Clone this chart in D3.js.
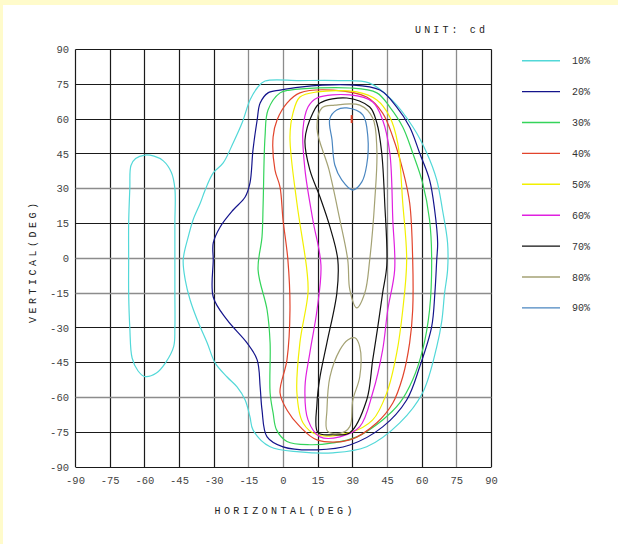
<!DOCTYPE html>
<html>
<head>
<meta charset="utf-8">
<script src="https://cdn.jsdelivr.net/npm/d3@7"></script>
<style>
  html, body { margin: 0; padding: 0; background: #ffffff; }
  svg { display: block; }
  text { font-family: "Liberation Mono", "DejaVu Sans Mono", monospace; }
</style>
</head>
<body>
<svg id="chart" width="618" height="544"></svg>
<script>
// Axis ticks (degrees)
const xTicks = [-90, -75, -60, -45, -30, -15, 0, 15, 30, 45, 60, 75, 90];
const yTicks = [90, 75, 60, 45, 30, 15, 0, -15, -30, -45, -60, -75, -90];
// Grid lines drawn in a lighter grey
const xLight = [-15, 0, 45, 75];
const yLight = [30, 0, -15, -60];

// Iso-candela levels and their line colours
const levels = ["10%", "20%", "30%", "40%", "50%", "60%", "70%", "80%", "90%"];
const levelColors = ["#52d8d8", "#14148c", "#34d45a", "#e2442c", "#f2f000",
                     "#e020e0", "#111111", "#a4a274", "#4a86c0"];

// Contour outlines, [horizontal deg, vertical deg]
const c10Side = [[-66,40],[-64,43],[-60,44.5],[-56,44],[-52,42],[-48.5,37],[-47,30],[-47,15],
  [-47,0],[-47,-15],[-47,-30],[-47.5,-38],[-51,-45],[-55,-49.5],[-60,-51],[-63,-48.5],
  [-65.5,-43],[-66.5,-30],[-67,-15],[-67,0],[-67,15],[-66.5,30]];
const c10Main = [[-8,76.4],[7,76.6],[24,76.6],[37,75.6],[47,68.2],[56,56.6],[62,45.4],
  [66.3,33.8],[68.8,20.8],[71,6.6],[71,-5],[69.7,-15],[68.5,-27],[66.3,-38.2],[60.2,-58],
  [50.3,-71],[36,-81.3],[21.4,-83.9],[7,-83.5],[-5.8,-81.3],[-13.2,-74],[-14.5,-68.4],
  [-16.6,-61.1],[-20.1,-55.5],[-24.4,-51.2],[-29.6,-45.1],[-33,-36.5],[-37.3,-26.6],
  [-40.4,-18],[-42.5,-9.4],[-43.4,-0.7],[-41.2,9.3],[-39.1,16.6],[-36,23.8],[-33.9,29.4],
  [-30.4,36.8],[-26.1,41.1],[-21.8,49.7],[-17.9,58.4],[-14.5,68.2],[-11.4,73.4]];
const c20 = [[-6.7,71.3],[-1.5,72.5],[7.1,73.8],[28.7,74.7],[41.7,72.5],[49,65.2],[54.6,56.6],
  [58.9,45.4],[63.2,33.8],[65.4,20.8],[66.7,6.6],[66.3,-0.7],[65.5,-15],[64.1,-29.6],
  [58.9,-46.9],[53.3,-61.1],[42.9,-72.7],[28.7,-80.5],[14.5,-82.6],[-0.2,-81.3],[-7.1,-77],
  [-9.3,-65.4],[-10.1,-55.5],[-11.4,-43.8],[-15.8,-36.5],[-24.4,-26.6],[-30.4,-16.7],
  [-30.4,-0.7],[-30.4,6.6],[-27.4,13.5],[-21.8,20.8],[-16.6,26.4],[-14.5,32.5],[-13.2,46.7],
  [-11.4,59.6],[-10.1,66.9]];
const c30 = [[-1.5,71.3],[2.8,72.5],[28.7,73.4],[40.4,71.3],[46,65.2],[51.6,56.6],[55.9,45.4],
  [60.2,32.5],[63.2,16.5],[64.1,0],[63.2,-22.3],[60.2,-39.5],[55.9,-52.4],[50.3,-62.4],
  [42.9,-69.7],[31.7,-77],[21.4,-79.6],[11.4,-80.4],[1.5,-79],[-3,-74],[-4.5,-66.7],
  [-5.8,-58],[-5.8,-36.4],[-7.1,-22.3],[-11,-5],[-9.3,9.2],[-8.8,23.8],[-8,52.3],[-6.7,63.9]];
const c40 = [[1.5,66.9],[7.1,71.3],[21.4,72.5],[36,69.5],[42.9,62.6],[47.3,52.3],[51.6,38.1],
  [54.6,23.8],[55.9,-0.7],[55.9,-22.3],[54.6,-36.4],[51.6,-51.1],[47.3,-62.4],[40.4,-70.9],
  [28.7,-78.3],[14.5,-78.3],[7.1,-72.6],[1.5,-65.4],[-1.5,-58],[1.5,-43.8],[2.8,-22.3],
  [1.9,-0.7],[-0.2,16.5],[-1.5,30.7],[-3.7,38.1],[-4.5,52.3],[-2.8,59.6]];
const c50 = [[7.1,69.5],[14.5,71.7],[31.7,71.7],[40.4,68.2],[46,60.9],[49.4,49.7],[51.6,23.8],
  [53.3,-0.7],[51.6,-22.3],[49,-40.8],[44.7,-58],[38.6,-69.7],[28.7,-75.2],[14.5,-76.1],
  [8.4,-70.9],[5.8,-58],[7.1,-36.4],[10.6,-14.9],[10.1,-5],[5.8,23.8],[2.8,52.3],[4.1,62.6]];
const c60 = [[10.6,65.2],[14.5,69.1],[28.7,70.4],[38.6,67.4],[42.9,59.6],[46,45.4],[47.3,16.5],
  [48.1,-5],[45.1,-22.3],[42.9,-39.5],[38.6,-58],[33,-72.6],[24.4,-77],[15.8,-77],
  [10.6,-69.7],[9.3,-55.4],[11.4,-40.8],[14.5,-22.3],[16.2,-2.9],[12.7,16.5],[9.3,38.1],
  [8.4,55.3]];
const c70 = [[12.7,62.6],[15.8,66.9],[27.4,69.1],[37.3,65.2],[40.4,58.3],[42.5,45.4],[43.8,23.8],
  [44.7,-2.9],[42.9,-14.9],[40.8,-29.6],[38.6,-43.8],[36,-61.1],[28.7,-75.2],[21.4,-76.1],
  [14.9,-75.2],[14.5,-62.4],[15.8,-51.1],[18.8,-36.4],[23.1,-14.9],[23.5,-0.7],[20.1,13.5],
  [15.8,26.4],[11.4,38.1],[9.3,51]];
const c80Upper = [[16.6,64.8],[22.2,66],[33,66],[38.6,60.5],[40.4,46.7],[39.5,25.1],[37.3,-0.7],
  [35.2,-14.9],[31.7,-21.4],[28.7,-13.6],[27.8,-0.7],[24.4,16.5],[19.7,38.1],[14.5,56]];
const c80Lower = [[27.8,-35.2],[30.9,-34.3],[33,-38.2],[33,-51.1],[30,-61.1],[28.7,-72.6],
  [24.4,-75.5],[19,-74.5],[18.8,-65.4],[20.1,-51.1],[24.4,-39.5]];
const c90 = [[23,63.9],[27.4,64.8],[34.3,61.8],[36.5,52.3],[36,40.2],[33.9,32.9],[30,29.4],
  [25.2,33.8],[22.2,40.2],[21,51],[20,60]];
// Peak intensity location
const peak = [29.5, 60];

const contours = [
  { level: 0, pts: c10Side }, { level: 0, pts: c10Main }, { level: 1, pts: c20 },
  { level: 2, pts: c30 }, { level: 3, pts: c40 }, { level: 4, pts: c50 },
  { level: 5, pts: c60 }, { level: 6, pts: c70 }, { level: 7, pts: c80Upper },
  { level: 7, pts: c80Lower }, { level: 8, pts: c90 }
];

const svg = d3.select("#chart");

// Page frame
svg.append("rect").attr("width", 618).attr("height", 544).attr("fill", "#fffbcb");
svg.append("rect").attr("x", 3).attr("y", 5).attr("width", 615).attr("height", 539).attr("fill", "#ffffff");

const plot = { left: 75.5, right: 491.5, top: 49.5, bottom: 467 };
const x = d3.scaleLinear().domain([-90, 90]).range([plot.left, plot.right]);
const y = d3.scaleLinear().domain([-90, 90]).range([plot.bottom, plot.top]);
const snap = v => Math.round(v - 0.5) + 0.5;

// Grid
const grid = svg.append("g");
grid.selectAll("line.v").data(xTicks).join("line")
  .attr("x1", d => snap(x(d))).attr("x2", d => snap(x(d)))
  .attr("y1", plot.top).attr("y2", plot.bottom)
  .attr("stroke", d => xLight.includes(d) ? "#8c8c8c" : "#1a1a1a")
  .attr("stroke-width", d => xLight.includes(d) ? 1.3 : 1.2);
grid.selectAll("line.h").data(yTicks).join("line")
  .attr("y1", d => snap(y(d))).attr("y2", d => snap(y(d)))
  .attr("x1", plot.left).attr("x2", plot.right)
  .attr("stroke", d => yLight.includes(d) ? "#8c8c8c" : "#1a1a1a")
  .attr("stroke-width", d => yLight.includes(d) ? 1.3 : 1.2);

// Contours
const line = d3.line()
  .x(d => x(d[0])).y(d => y(d[1]))
  .curve(d3.curveCatmullRomClosed.alpha(0.5));
svg.append("g").selectAll("path").data(contours).join("path")
  .attr("d", d => line(d.pts))
  .attr("fill", "none")
  .attr("stroke", d => levelColors[d.level])
  .attr("stroke-width", 1.2);

// Peak marker
svg.append("line")
  .attr("x1", x(peak[0])).attr("x2", x(peak[0]))
  .attr("y1", y(peak[1]) - 4).attr("y2", y(peak[1]) + 4)
  .attr("stroke", "#e2442c").attr("stroke-width", 2);

// Tick labels
svg.append("g").selectAll("text").data(yTicks).join("text")
  .attr("x", 69).attr("y", d => y(d)).attr("dy", "0.35em")
  .attr("text-anchor", "end").attr("font-size", 10.5).attr("fill", "#444")
  .text(d => d);
svg.append("g").selectAll("text").data(xTicks).join("text")
  .attr("x", d => x(d)).attr("y", 484)
  .attr("text-anchor", "middle").attr("font-size", 10.5).attr("fill", "#444")
  .text(d => d);

// Axis titles
svg.append("text")
  .attr("x", 283.5).attr("y", 514).attr("text-anchor", "middle")
  .attr("font-size", 10).attr("fill", "#222")
  .attr("textLength", 138).attr("lengthAdjust", "spacing")
  .text("HORIZONTAL(DEG)");
svg.append("text")
  .attr("transform", "translate(36,263) rotate(-90)").attr("text-anchor", "middle")
  .attr("font-size", 10).attr("fill", "#222")
  .attr("textLength", 120).attr("lengthAdjust", "spacing")
  .text("VERTICAL(DEG)");
svg.append("text")
  .attr("x", 415).attr("y", 33)
  .attr("font-size", 10).attr("fill", "#222")
  .attr("textLength", 70).attr("lengthAdjust", "spacing")
  .text("UNIT: cd");

// Legend
const legend = svg.append("g").selectAll("g").data(levels).join("g")
  .attr("transform", (d, i) => `translate(0,${60.7 + i * 30.9})`);
legend.append("line")
  .attr("x1", 522).attr("x2", 560).attr("y1", 0).attr("y2", 0)
  .attr("stroke", (d, i) => levelColors[i]).attr("stroke-width", 1.4);
legend.append("text")
  .attr("x", 572).attr("dy", "0.35em")
  .attr("font-size", 10).attr("fill", "#333")
  .text(d => d);
</script>
</body>
</html>
